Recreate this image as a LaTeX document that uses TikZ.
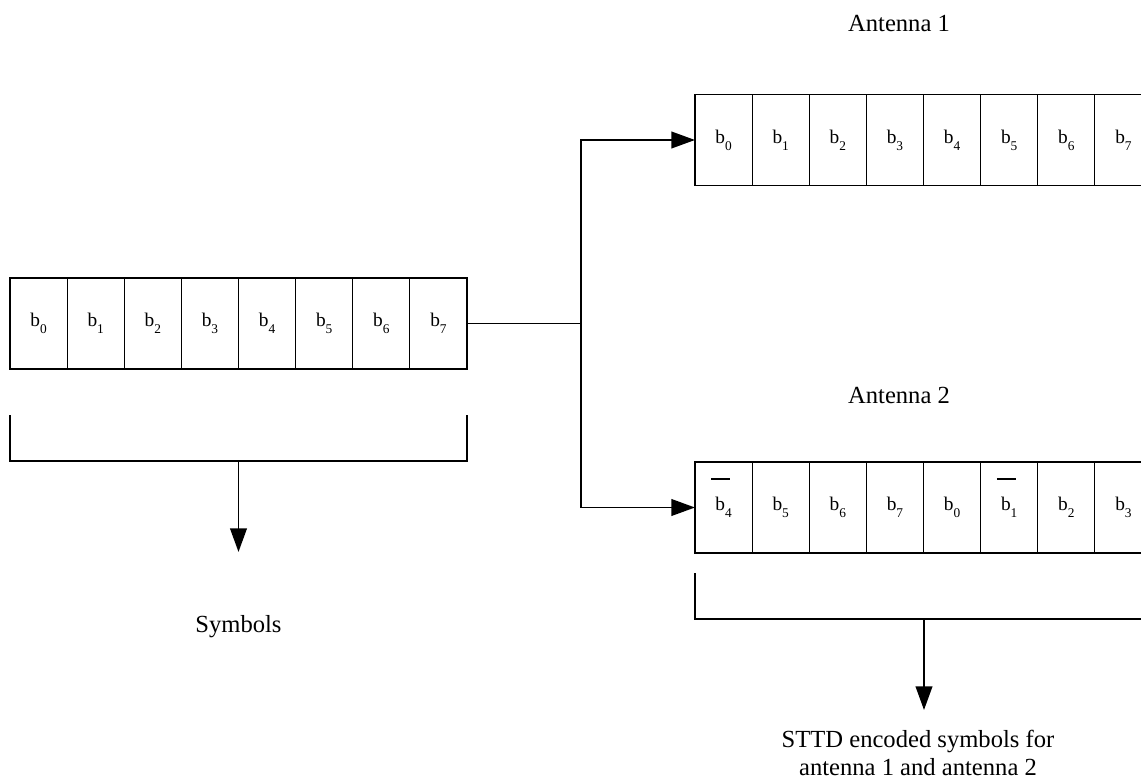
\documentclass[tikz,border=0pt]{standalone}
\usepackage{fontspec}
\setmainfont{Liberation Serif}
\usetikzlibrary{arrows.meta,positioning}

\newcommand{\bsym}[1]{b\raisebox{-4pt}{\fontsize{7.6}{8}\selectfont #1}}
\newcommand{\bbar}[1]{\smash{\makebox[0pt][l]{\hspace{-2.3pt}\raisebox{17.5pt}{\rule{10.8pt}{0.9pt}}}}\bsym{#1}}

\begin{document}
\begin{tikzpicture}
[x=0.2mm,y=-0.2mm,
 cell/.style={draw=black,line width=0.7pt,inner sep=0pt,outer sep=0pt,
    minimum width=11.425mm,minimum height=18.2mm,font=\fontsize{11}{12}\selectfont},
 txt/.style={font=\fontsize{14}{15.9}\selectfont,inner sep=0pt},
 wire/.style={line width=1.1pt},
 feed/.style={wire,-{Triangle[length=13.5pt,width=9.5pt]}}]
\useasboundingbox (0,0) rectangle (1141,779);
\clip (0,0) rectangle (1141,779);

\foreach \i in {0,...,7}
  \node[cell] (s\i) at ({38.56+57.125*\i},323.5) {\bsym{\i}};
\foreach \i in {0,...,7}
  \node[cell] (a\i) at ({723.56+57.125*\i},140) {\bsym{\i}};
\foreach \lbl [count=\i from 0] in {\bbar{4},\bsym{5},\bsym{6},\bsym{7},\bsym{0},\bbar{1},\bsym{2},\bsym{3}}
  \node[cell] (c\i) at ({723.56+57.125*\i},507.5) {\lbl};

\node[txt,anchor=base] (ant1) at (899,32) {Antenna 1};
\node[txt,anchor=base] (ant2) at (899,403) {Antenna 2};
\node[txt,anchor=base] (sym) at (238.5,632) {Symbols};
\node[txt,align=center] (sttd) at (918,753) {STTD encoded symbols for\\antenna 1 and antenna 2};

\coordinate (fork) at (581,323.5);
\draw [wire] (s7.east) -- (fork);
\draw [feed] (fork) |- (a0.west);
\draw [feed] (fork) |- (c0.west);

\coordinate (lmid) at (238.5,461);
\coordinate (ltip) at (238.5,552);
\draw [wire] (10,415) -- (10,461) -- (467,461) -- (467,415);
\draw [feed] (lmid) -- (ltip);

\coordinate (rmid) at (924,619);
\coordinate (rtip) at (924,710);
\draw [wire] (695,573) -- (695,619) -- (1151,619) -- (1151,573);
\draw [feed] (rmid) -- (rtip);
\end{tikzpicture}
\end{document}
